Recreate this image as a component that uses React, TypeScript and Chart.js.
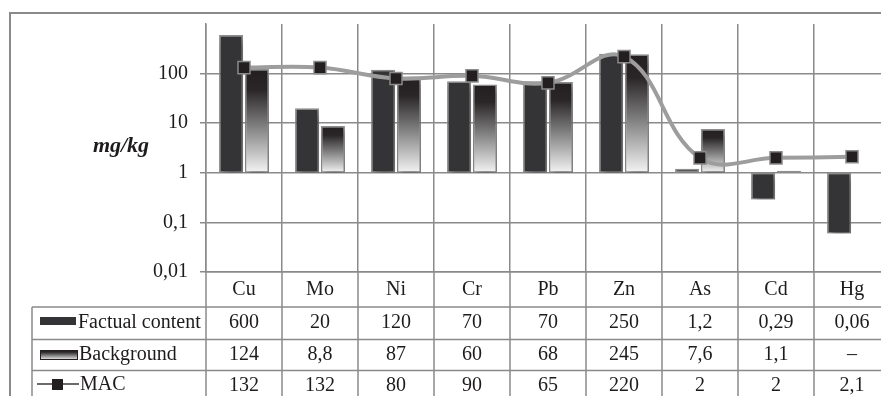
import React, { useEffect, useRef } from 'react';
import { Chart, registerables } from 'chart.js';

Chart.register(...registerables);

// ---- data ----
const categories = ['Cu', 'Mo', 'Ni', 'Cr', 'Pb', 'Zn', 'As', 'Cd', 'Hg'];
const factualContent: (number | null)[] = [600, 20, 120, 70, 70, 250, 1.2, 0.29, 0.06];
const backgroundLevel: (number | null)[] = [124, 8.8, 87, 60, 68, 245, 7.6, 1.1, null];
const macValues: (number | null)[] = [132, 132, 80, 90, 65, 220, 2, 2, 2.1];
const yTickValues = [0.01, 0.1, 1, 10, 100, 1000];
const seriesNames = ['Factual content', 'Background', 'MAC'];
const yAxisTitle = 'mg/kg';
const barBase = 1;

const fmt = (v: number | null) => (v === null ? '–' : String(v).replace('.', ','));

const FONT = '"Liberation Serif", "Times New Roman", serif';
const TEXT = '#1e1b1c';
const GRID = '#8a8a8a';
const DARK = '#231f20';
const BAR_DARK = '#343335';

const W = 900;
const H = 396;

const bgGradient = (ctx: CanvasRenderingContext2D, top: number, bottom: number) => {
  const g = ctx.createLinearGradient(0, top, 0, bottom);
  g.addColorStop(0, DARK);
  g.addColorStop(0.2, '#2a2627');
  g.addColorStop(0.6, '#8c8c8c');
  g.addColorStop(1, '#f4f4f4');
  return g;
};

const tablePlugin = {
  id: 'tableAndFrame',
  beforeDatasetDraw(chart: any, args: any) {
    const ds = chart.data.datasets[args.index];
    if (ds.type !== 'line') {
      const c = chart.ctx;
      c.save();
      c.shadowColor = 'rgba(0,0,0,0.4)';
      c.shadowBlur = 7;
      c.shadowOffsetX = 2;
      c.shadowOffsetY = 4;
    }
  },
  afterDatasetDraw(chart: any, args: any) {
    const ds = chart.data.datasets[args.index];
    if (ds.type !== 'line') chart.ctx.restore();
  },
  afterDraw(chart: any) {
    const c: CanvasRenderingContext2D = chart.ctx;
    const xs = chart.scales.x;
    const area = chart.chartArea;
    const colW = (area.right - area.left) / categories.length;
    c.save();
    // outer frame
    c.strokeStyle = GRID;
    c.lineWidth = 2;
    c.beginPath();
    c.moveTo(10, H);
    c.lineTo(10, 13);
    c.lineTo(W, 13);
    c.stroke();

    // table lines
    const tableLeft = 32;
    const rowLines = [307, 339.5, 370.5];
    c.lineWidth = 1.5;
    c.strokeStyle = GRID;
    c.beginPath();
    rowLines.forEach((y) => {
      c.moveTo(tableLeft, y);
      c.lineTo(W, y);
    });
    c.moveTo(tableLeft, rowLines[0]);
    c.lineTo(tableLeft, H);
    for (let i = 0; i <= categories.length; i++) {
      const x = area.left + i * colW;
      c.moveTo(x, area.bottom);
      c.lineTo(x, H);
    }
    c.stroke();

    // table values
    const rows = [factualContent, backgroundLevel, macValues];
    const rowCenters = [323, 355, 386];
    c.fillStyle = TEXT;
    c.font = `20px ${FONT}`;
    c.textAlign = 'center';
    c.textBaseline = 'middle';
    rows.forEach((vals, r) => {
      vals.forEach((v, i) => {
        c.fillText(fmt(v), xs.getPixelForValue(i), rowCenters[r]);
      });
    });

    // legend keys
    c.fillStyle = BAR_DARK;
    c.fillRect(40, 317, 36, 8);
    c.fillStyle = bgGradient(c, 350, 360);
    c.fillRect(40, 350, 38, 10);
    c.strokeStyle = DARK;
    c.lineWidth = 1;
    c.strokeRect(40.5, 350.5, 37, 9);
    c.strokeStyle = '#3a3a3a';
    c.lineWidth = 1.5;
    c.beginPath();
    c.moveTo(37, 384);
    c.lineTo(79, 384);
    c.stroke();
    c.fillStyle = DARK;
    c.fillRect(52, 379, 11, 11);

    c.fillStyle = TEXT;
    c.textAlign = 'left';
    c.fillText(seriesNames[0], 78, rowCenters[0]);
    c.fillText(seriesNames[1], 79, rowCenters[1]);
    c.fillText(seriesNames[2], 80, rowCenters[2] - 1);

    // y-axis title
    c.font = `italic bold 22px ${FONT}`;
    c.textAlign = 'center';
    c.fillText(yAxisTitle, 121, 146);
    c.restore();
  },
};

export default function App() {
  const ref = useRef<HTMLCanvasElement | null>(null);

  useEffect(() => {
    if (!ref.current) return;
    const chart = new Chart(ref.current, {
      type: 'bar',
      data: {
        labels: categories,
        datasets: [
          {
            type: 'line',
            label: seriesNames[2],
            data: macValues,
            order: 0,
            borderColor: '#9d9d9d',
            borderWidth: 4,
            tension: 0.4,
            pointStyle: 'rect',
            pointRadius: 8.5,
            pointBackgroundColor: DARK,
            pointBorderColor: '#8a8a8a',
            pointBorderWidth: 1.5,
          } as any,
          {
            type: 'bar',
            label: seriesNames[0],
            data: factualContent.map((v) => (v === null ? null : [barBase, v])),
            order: 1,
            backgroundColor: BAR_DARK,
            borderColor: '#8f8f8f',
            borderWidth: 1.5,
            borderSkipped: false,
            categoryPercentage: 0.68,
            barPercentage: 0.93,
          } as any,
          {
            type: 'bar',
            label: seriesNames[1],
            data: backgroundLevel.map((v) => (v === null ? null : [barBase, v])),
            order: 2,
            backgroundColor: (ctx: any) => {
              const chart = ctx.chart;
              if (ctx.type !== 'data' || !chart.chartArea) return '#888';
              const v = backgroundLevel[ctx.dataIndex];
              if (v === null) return '#888';
              const ys = chart.scales.y;
              const a = ys.getPixelForValue(v);
              const b = ys.getPixelForValue(barBase);
              return bgGradient(chart.ctx, Math.min(a, b), Math.max(a, b));
            },
            borderColor: '#8f8f8f',
            borderWidth: 1.5,
            borderSkipped: false,
            categoryPercentage: 0.68,
            barPercentage: 0.93,
          } as any,
        ],
      },
      options: {
        animation: false,
        responsive: false,
        devicePixelRatio: 1,
        layout: { padding: { top: 23, right: 5.5, left: 0, bottom: 0 } },
        plugins: {
          legend: { display: false },
          tooltip: { enabled: false },
        },
        scales: {
          x: {
            grid: { color: GRID, lineWidth: 1.5, drawTicks: false, offset: true },
            border: { color: GRID, width: 1.5 },
            ticks: { color: TEXT, font: { family: FONT, size: 20 }, padding: 6 },
            afterFit: (s: any) => {
              s.height = 124;
            },
          },
          y: {
            type: 'logarithmic',
            min: 0.01,
            max: 1000,
            afterBuildTicks: (s: any) => {
              s.ticks = yTickValues.map((v) => ({ value: v }));
            },
            afterFit: (s: any) => {
              s.width = 206;
            },
            grid: {
              color: (ctx: any) => (ctx.tick && ctx.tick.value === 1000 ? 'rgba(0,0,0,0)' : GRID),
              lineWidth: 1.5,
              tickLength: 6,
            },
            border: { color: GRID, width: 1.5 },
            ticks: {
              color: TEXT,
              font: { family: FONT, size: 20 },
              padding: 12,
              callback: (v: any) => (Number(v) === 1000 ? '' : fmt(Number(v))),
            },
          },
        },
      },
      plugins: [tablePlugin],
    });
    return () => chart.destroy();
  }, []);

  return (
    <div style={{ position: 'absolute', left: 0, top: 0, width: 881, height: H, overflow: 'hidden', background: '#fff' }}>
      <canvas ref={ref} width={W} height={H} style={{ width: W, height: H, display: 'block' }} />
    </div>
  );
}
